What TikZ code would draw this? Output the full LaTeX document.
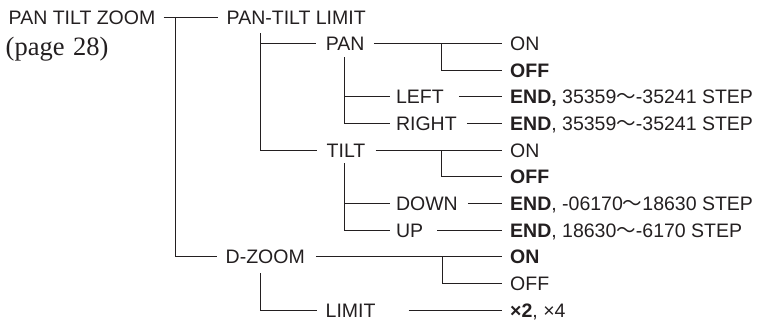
\documentclass[tikz,border=0pt]{standalone}
\usepackage{fontspec}
\setmainfont{Liberation Sans}
\newfontfamily\serifpg{Liberation Serif}
\newfontfamily\cjk{Noto Sans CJK JP}
\definecolor{ink}{RGB}{35,31,32}
\begin{document}
\begin{tikzpicture}[x=1pt,y=-1pt,
  lbl/.style={inner sep=0pt, anchor=west, text height=14pt, text depth=0pt,
              font=\fontsize{19.5}{21}\selectfont, text=ink},
  ln/.style={draw=ink, line width=1pt}]
\useasboundingbox (0,0) rectangle (763,322);
% left and middle labels
\node[lbl] (ptz) at (8.5,17) {PAN TILT ZOOM};
\node[anchor=base west, inner sep=0pt, font=\serifpg\fontsize{26.5}{28}\selectfont, text=ink] (pg) at (5.5,55) {(page\hspace{8.5pt}28)};
\node[lbl] (ptl) at (226.5,17) {PAN-TILT LIMIT};
\node[lbl] (pan) at (325.7,43.65) {PAN};
\node[lbl] (left) at (395.8,96.95) {LEFT};
\node[lbl] (right) at (395.8,123.6) {RIGHT};
\node[lbl] (tilt) at (326.5,150.25) {TILT};
\node[lbl] (down) at (395.8,203.55) {DOWN};
\node[lbl] (up) at (395.8,230.2) {UP};
\node[lbl] (dz) at (225.5,256.85) {D-ZOOM};
\node[lbl] (lim) at (325.5,310.15) {LIMIT};
% right column
\node[lbl] (on1) at (510,43.65) {ON};
\node[lbl] (off1) at (510,70.3) {\textbf{OFF}};
\node[lbl] (e1) at (510,96.95) {\textbf{END,} 35359{\cjk ～}-35241 STEP};
\node[lbl] (e2) at (510,123.6) {\textbf{END}, 35359{\cjk ～}-35241 STEP};
\node[lbl] (on2) at (510,150.25) {ON};
\node[lbl] (off2) at (510,176.9) {\textbf{OFF}};
\node[lbl] (e3) at (510,203.55) {\textbf{END}, -06170{\cjk ～}18630 STEP};
\node[lbl] (e4) at (510,230.2) {\textbf{END}, 18630{\cjk ～}-6170 STEP};
\node[lbl] (on3) at (510,256.85) {\textbf{ON}};
\node[lbl] (off3) at (510,283.5) {OFF};
\node[lbl] (x24) at (510,310.15) {\textbf{×2}, ×4};
% connectors
\draw[ln] ([xshift=8pt]ptz.east) -- ([xshift=-8.5pt]ptl.west);
\coordinate (j1) at (175,17);
\draw[ln] (j1) |- ([xshift=-8.5pt]dz.west);
\coordinate (j2) at (260.7,33);
\draw[ln] (j2) |- ([xshift=-10pt]tilt.west);
\draw[ln] (j2 |- pan.west) -- ([xshift=-10pt]pan.west);
% PAN
\draw[ln] ([xshift=9pt]pan.east) -- ([xshift=-8pt]on1.west);
\coordinate (j3) at (441,43.65);
\draw[ln] (j3) |- ([xshift=-8pt]off1.west);
\coordinate (j4) at (344,57);
\draw[ln] (j4) |- ([xshift=-6pt]right.west);
\draw[ln] (j4 |- left.west) -- ([xshift=-6pt]left.west);
\draw[ln] ([xshift=15pt]left.east) -- ([xshift=-8pt]e1.west);
\draw[ln] ([xshift=10pt]right.east) -- ([xshift=-8pt]e2.west);
% TILT
\draw[ln] ([xshift=10pt]tilt.east) -- ([xshift=-8pt]on2.west);
\coordinate (j5) at (441,150.25);
\draw[ln] (j5) |- ([xshift=-8pt]off2.west);
\coordinate (j6) at (344,163);
\draw[ln] (j6) |- ([xshift=-6pt]up.west);
\draw[ln] (j6 |- down.west) -- ([xshift=-6pt]down.west);
\draw[ln] ([xshift=10pt]down.east) -- ([xshift=-8pt]e3.west);
\draw[ln] ([xshift=14pt]up.east) -- ([xshift=-8pt]e4.west);
% D-ZOOM
\draw[ln] ([xshift=11pt]dz.east) -- ([xshift=-8pt]on3.west);
\coordinate (j7) at (442,256.85);
\draw[ln] (j7) |- ([xshift=-8pt]off3.west);
\coordinate (j8) at (260.7,273);
\draw[ln] (j8) |- ([xshift=-9pt]lim.west);
\draw[ln] ([xshift=33pt]lim.east) -- ([xshift=-8pt]x24.west);
\end{tikzpicture}
\end{document}
